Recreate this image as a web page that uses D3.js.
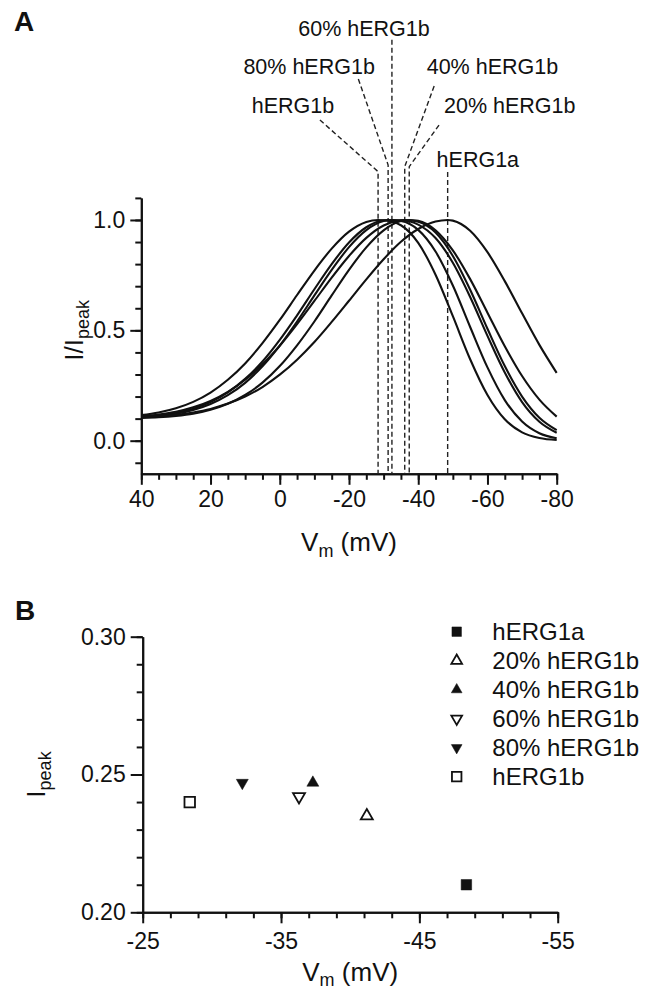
<!DOCTYPE html>
<html>
<head>
<meta charset="utf-8">
<script src="https://cdn.jsdelivr.net/npm/d3@7"></script>
<style>
body { margin: 0; background: #fff; }
svg { display: block; font-family: "Liberation Sans", Arial, sans-serif; }
</style>
</head>
<body>
<div id="chart"></div>
<script>
// Panel A - normalised current, read every 5 mV from +40 to -80
const voltages = d3.range(40, -81, -5);
const curveNames = ["hERG1b", "80% hERG1b", "60% hERG1b", "40% hERG1b", "20% hERG1b", "hERG1a"];
const peakV = [-28.4, -31.3, -32.4, -36.1, -37.4, -48.5];
const curve1b  = [0.116,0.128,0.147,0.176,0.218,0.276,0.350,0.442,0.547,0.660,0.771,0.870,0.947,0.991,0.999,0.976,0.896,0.752,0.564,0.369,0.207,0.097,0.038,0.012,0.003];
const curve80  = [0.107,0.114,0.126,0.145,0.175,0.219,0.280,0.359,0.457,0.568,0.686,0.800,0.898,0.967,0.999,0.995,0.955,0.857,0.703,0.515,0.332,0.184,0.087,0.034,0.011];
const curve60  = [0.106,0.112,0.122,0.139,0.166,0.206,0.262,0.337,0.431,0.540,0.658,0.774,0.877,0.954,0.995,0.999,0.979,0.918,0.806,0.651,0.475,0.309,0.175,0.086,0.036];
const curve40  = [0.111,0.119,0.131,0.151,0.180,0.221,0.276,0.346,0.430,0.528,0.633,0.739,0.837,0.919,0.975,0.999,0.992,0.943,0.837,0.684,0.507,0.338,0.200,0.104,0.048];
const curve20  = [0.103,0.106,0.112,0.122,0.140,0.167,0.207,0.263,0.338,0.432,0.540,0.658,0.774,0.876,0.953,0.995,0.996,0.953,0.862,0.732,0.580,0.428,0.293,0.186,0.109];
const curve1a  = [0.106,0.110,0.117,0.128,0.144,0.168,0.200,0.243,0.299,0.367,0.447,0.538,0.634,0.731,0.822,0.901,0.959,0.993,0.997,0.951,0.854,0.723,0.577,0.434,0.307];
const curvesA = [curve1b, curve80, curve60, curve40, curve20, curve1a];

const xTicksA = [40, 20, 0, -20, -40, -60, -80];
const yTicksA = [0, 0.5, 1.0];

// Panel B - peak current vs voltage of peak
const groupsB = ["hERG1a", "20% hERG1b", "40% hERG1b", "60% hERG1b", "80% hERG1b", "hERG1b"];
const vPeakB = [-48.4, -41.2, -37.3, -36.3, -32.2, -28.4];
const iPeakB = [0.210, 0.235, 0.247, 0.242, 0.247, 0.240];
const xTicksB = [-25, -35, -45, -55];
const yTicksB = [0.20, 0.25, 0.30];

// marker per group: symbol, filled, flipped
const markers = [
  {sym: d3.symbolSquare, fill: true, flip: false},
  {sym: d3.symbolTriangle, fill: false, flip: false},
  {sym: d3.symbolTriangle, fill: true, flip: false},
  {sym: d3.symbolTriangle, fill: false, flip: true},
  {sym: d3.symbolTriangle, fill: true, flip: true},
  {sym: d3.symbolSquare, fill: false, flip: false}
];

const ink = "#111";
const svg = d3.select("#chart").append("svg")
  .attr("width", 654)
  .attr("height", 994);

function styleAxis(g, fs) {
  g.attr("font-family", null).attr("font-size", fs);
  g.select(".domain").attr("stroke", ink).attr("stroke-width", 2);
  g.selectAll(".tick line").attr("stroke", ink).attr("stroke-width", 2);
  g.selectAll(".tick text").attr("fill", ink);
}

// ---------- panel A ----------
const xA = d3.scaleLinear().domain([40, -80]).range([141.3, 556.7]);
const yA = d3.scaleLinear().domain([-0.15, 1.1]).range([473.8, 197.9]);

svg.append("g")
  .attr("transform", `translate(0,${yA(-0.15)})`)
  .call(d3.axisBottom(xA).tickValues(d3.range(40, -81, -5)).tickSize(6).tickSizeOuter(0).tickFormat(""))
  .call(g => styleAxis(g, 23));
svg.append("g")
  .attr("transform", `translate(0,${yA(-0.15)})`)
  .call(d3.axisBottom(xA).tickValues(xTicksA).tickSize(11).tickSizeOuter(0).tickPadding(6).tickFormat(d => String(d)))
  .call(g => styleAxis(g, 23));

svg.append("g")
  .attr("transform", `translate(${xA(40)},0)`)
  .call(d3.axisLeft(yA).tickValues(d3.range(-0.1, 1.15, 0.1)).tickSize(6).tickSizeOuter(0).tickFormat(""))
  .call(g => styleAxis(g, 23));
svg.append("g")
  .attr("transform", `translate(${xA(40)},0)`)
  .call(d3.axisLeft(yA).tickValues(yTicksA).tickSize(11).tickSizeOuter(0).tickPadding(5).tickFormat(d3.format(".1f")))
  .call(g => styleAxis(g, 23));

// dashed peak markers and their label leaders
const labelsA = [
  {tx: 8.1,    ty: 1.485, from: [-11.6, 1.453], top: 1.219},
  {tx: 10.5,   ty: 1.660, from: [-22.7, 1.639], top: 1.249},
  {tx: -5.35,  ty: 1.834, from: null,           top: 1.816},
  {tx: -42.45, ty: 1.660, from: [-44.6, 1.607], top: 1.2415},
  {tx: -47.44, ty: 1.485, from: [-46.0, 1.430], top: 1.2415},
  {tx: -45.3,  ty: 1.2415, from: null,          top: 1.2175}
];

const dashG = svg.append("g")
  .attr("fill", "none")
  .attr("stroke", "#222")
  .attr("stroke-width", 1.4)
  .attr("stroke-dasharray", "5,3");

labelsA.forEach((lab, i) => {
  const pts = [];
  if (lab.from) pts.push(lab.from);
  pts.push([peakV[i], lab.top]);
  pts.push([peakV[i], -0.15]);
  dashG.append("path")
    .attr("d", d3.line().x(p => xA(p[0])).y(p => yA(p[1]))(pts));
  svg.append("text")
    .attr("x", xA(lab.tx))
    .attr("y", yA(lab.ty))
    .attr("font-size", 21.5)
    .attr("fill", ink)
    .text(curveNames[i]);
});

const lineA = d3.line()
  .x(d => xA(d[0]))
  .y(d => yA(d[1]))
  .curve(d3.curveMonotoneX);

curvesA.forEach((vals, i) => {
  const pts = voltages.map((v, j) => [v, vals[j]]);
  pts.push([peakV[i], 1.0]);
  pts.sort((a, b) => b[0] - a[0]);
  svg.append("path")
    .datum(pts)
    .attr("fill", "none")
    .attr("stroke", ink)
    .attr("stroke-width", 2.1)
    .attr("d", lineA);
});

svg.append("text")
  .attr("x", 14).attr("y", 31)
  .attr("font-size", 28).attr("font-weight", "bold").attr("fill", ink)
  .text("A");

const titleAx = svg.append("text")
  .attr("x", (xA(40) + xA(-80)) / 2).attr("y", 551)
  .attr("text-anchor", "middle").attr("font-size", 26).attr("fill", ink);
titleAx.append("tspan").text("V");
titleAx.append("tspan").attr("font-size", 18).attr("dy", 6).text("m");
titleAx.append("tspan").attr("dy", -6).text(" (mV)");

const titleAy = svg.append("text")
  .attr("transform", `translate(83,${yA(0.5)}) rotate(-90)`)
  .attr("text-anchor", "middle").attr("font-size", 26).attr("fill", ink);
titleAy.append("tspan").text("I/I");
titleAy.append("tspan").attr("font-size", 18).attr("dy", 6).text("peak");

// ---------- panel B ----------
const xB = d3.scaleLinear().domain([-25, -55]).range([142.7, 557.7]);
const yB = d3.scaleLinear().domain([0.20, 0.30]).range([912.3, 636.7]);

svg.append("g")
  .attr("transform", `translate(0,${yB(0.2)})`)
  .call(d3.axisBottom(xB).tickValues(d3.range(-25, -56, -2)).tickSize(6).tickSizeOuter(0).tickFormat(""))
  .call(g => styleAxis(g, 23));
svg.append("g")
  .attr("transform", `translate(0,${yB(0.2)})`)
  .call(d3.axisBottom(xB).tickValues(xTicksB).tickSize(11).tickSizeOuter(0).tickPadding(9).tickFormat(d => String(d)))
  .call(g => styleAxis(g, 23));

svg.append("g")
  .attr("transform", `translate(${xB(-25)},0)`)
  .call(d3.axisLeft(yB).tickValues(d3.range(0.20, 0.305, 0.01)).tickSize(6).tickSizeOuter(0).tickFormat(""))
  .call(g => styleAxis(g, 23));
svg.append("g")
  .attr("transform", `translate(${xB(-25)},0)`)
  .call(d3.axisLeft(yB).tickValues(yTicksB).tickSize(12).tickSizeOuter(0).tickPadding(5).tickFormat(d3.format(".2f")))
  .call(g => styleAxis(g, 23));

function drawMarker(g, m, x, y, size) {
  g.append("path")
    .attr("d", d3.symbol().type(m.sym).size(size)())
    .attr("transform", `translate(${x},${y})` + (m.flip ? " rotate(180)" : ""))
    .attr("fill", m.fill ? ink : "#fff")
    .attr("stroke", ink)
    .attr("stroke-width", m.fill ? 0.5 : 1.8);
}

groupsB.forEach((name, i) => {
  const m = markers[i];
  const size = m.sym === d3.symbolSquare ? 110 : 62;
  drawMarker(svg, m, xB(vPeakB[i]), yB(iPeakB[i]), size);
});

// legend
const legend = svg.append("g").attr("transform", "translate(456.7,631.7)");
groupsB.forEach((name, i) => {
  const m = markers[i];
  const size = m.sym === d3.symbolSquare ? 90 : 50;
  drawMarker(legend, m, 0, i * 29, size);
  legend.append("text")
    .attr("x", 35.6).attr("y", i * 29 + 8.6)
    .attr("font-size", 24).attr("fill", ink)
    .text(name);
});

svg.append("text")
  .attr("x", 15).attr("y", 620)
  .attr("font-size", 28).attr("font-weight", "bold").attr("fill", ink)
  .text("B");

const titleBx = svg.append("text")
  .attr("x", (xB(-25) + xB(-55)) / 2).attr("y", 981)
  .attr("text-anchor", "middle").attr("font-size", 26).attr("fill", ink);
titleBx.append("tspan").text("V");
titleBx.append("tspan").attr("font-size", 18).attr("dy", 5).text("m");
titleBx.append("tspan").attr("dy", -5).text(" (mV)");

const titleBy = svg.append("text")
  .attr("transform", `translate(45,${yB(0.25)}) rotate(-90)`)
  .attr("text-anchor", "middle").attr("font-size", 26).attr("fill", ink);
titleBy.append("tspan").text("I");
titleBy.append("tspan").attr("font-size", 18).attr("dy", 6).text("peak");
</script>
</body>
</html>
